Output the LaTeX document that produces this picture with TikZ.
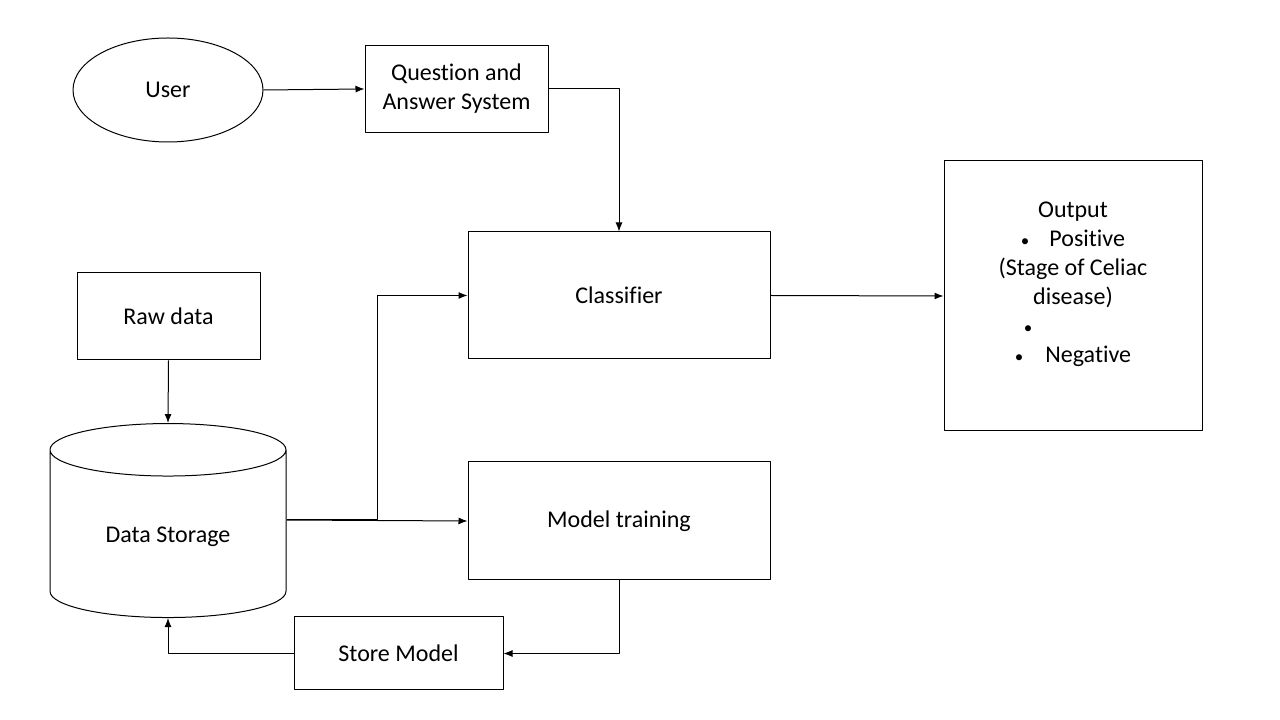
\documentclass[tikz,border=0pt]{standalone}
\usepackage{fontspec}
\setmainfont[Ligatures=NoCommon]{Carlito}
\usetikzlibrary{arrows.meta}
\usetikzlibrary{shapes, positioning}

\newcommand{\smallbullet}{{\fontsize{17bp}{29bp}\selectfont\textbullet}}

\begin{document}
\begin{tikzpicture}[>={Latex[length=9bp,width=7bp]},line join=bevel,line width=1bp,
  font=\fontsize{24bp}{29bp}\selectfont,
  box/.style={draw,inner sep=0pt,align=center}]
\useasboundingbox (0bp,0bp) rectangle (1280bp,720bp);
%%
\node (user) at (168bp,630bp) [draw,ellipse,minimum width=190bp,minimum height=104bp] {User};
  \node (qa) at (456.5bp,631bp) [box,minimum width=183bp,minimum height=87bp] {Question and\\Answer System};
  \node (cls) at (619bp,424.5bp) [box,minimum width=302bp,minimum height=127bp] {Classifier};
  \node (out) at (1073bp,424bp) [box,minimum width=258bp,minimum height=270bp] {};
  \node (outtext) at (1073bp,436bp) [align=center] {Output\\\smallbullet\hspace{20bp}Positive\\(Stage of Celiac\\disease)\\\hspace*{-90bp}\smallbullet\\\smallbullet\hspace{22bp}Negative};
  \node (raw) at (168.5bp,403.5bp) [box,minimum width=183bp,minimum height=87bp] {Raw data};
  \node (store) at (168bp,183bp) [draw,cylinder,shape border rotate=90,aspect=0.4,minimum width=236bp,minimum height=194bp] {Data Storage};
  \node (train) at (619bp,199bp) [box,minimum width=302bp,minimum height=118bp] {Model training};
  \node (sm) at (398.5bp,66.5bp) [box,minimum width=209bp,minimum height=73bp] {Store Model};
  \coordinate (split) at (377bp,200bp);
  \draw [black,->] (user.east) -- (qa.west);
  \draw [black,->] (qa.east) -| (cls.north);
  \draw [black,->] (cls.east) -- (out.west);
  \draw [black,->] (raw.south) -- (store.north);
  \draw [black,->] (split -| store.east) -- (train.west);
  \draw [black,->] (split -| store.east) -- (split) |- (cls.west);
  \draw [black,->] (train.south) |- (sm.east);
  \draw [black,->] (sm.west) -| (store.south);
%
\end{tikzpicture}
\end{document}
